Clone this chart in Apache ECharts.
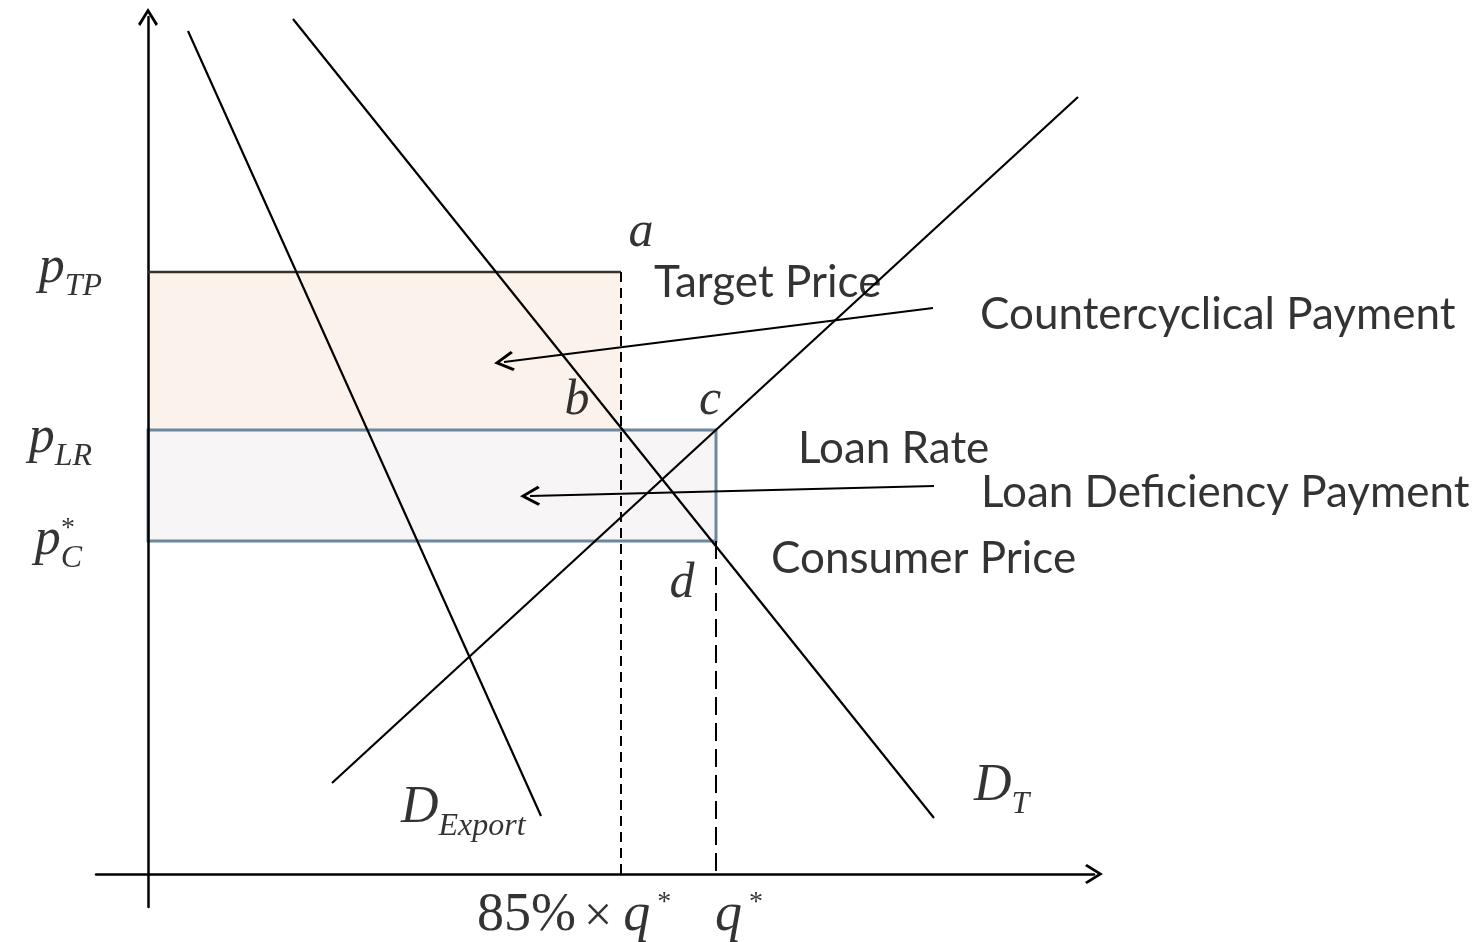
<!DOCTYPE html>
<html>
<head>
<meta charset="utf-8">
<script src="https://cdn.jsdelivr.net/npm/echarts@6/dist/echarts.min.js"></script>
<style>
html,body{margin:0;padding:0;background:#fff;}
#chart{width:1483px;height:942px;}
</style>
</head>
<body>
<div id="chart"></div>
<script>
// ---- data (quantity / price units, origin at the axes' crossing) ----
const pTP = 602;   // target price
const pLR = 444;   // loan rate
const pC = 333;    // consumer price
const q85 = 473;   // 85% x q*
const qStar = 568; // q*
const demandExport = [[40, 843], [393, 58]];
const demandTotal = [[145, 855], [786, 56]];
const supplyCurve = [[184, 91], [930, 777]];
const ccpArrow = [[785, 566], [356, 512]];
const ldpArrow = [[786, 388], [382, 378]];
const priceTickLabels = ['{m|p}{s|TP}', '{m|p}{s|LR}', '{m|p}{s|C}'];
const qTickLabels = ['{n|85%}{x|×}{q|q}{st|*}', '{q|q}{st|*}'];
const pointLetters = ['a', 'b', 'c', 'd'];
const curveLabels = ['{m|D}{e|Export}', '{m|D}{s|T}'];
const noteLabels = ['Target Price', 'Countercyclical Payment', 'Loan Rate', 'Loan Deficiency Payment', 'Consumer Price'];

// ---- styles ----
const SERIF = 'Liberation Serif';
const SANS = 'Lato';
const chevron = 'path://M10,0 L20,16 L17.8,17.8 L10,5.2 L2.2,17.8 L0,16 Z';
const richMath = {
  m: {fontFamily: SERIF, fontStyle: 'italic', fontSize: 52, lineHeight: 52, verticalAlign: 'bottom', padding: [0, 0, 9, 0], color: '#000'},
  s: {fontFamily: SERIF, fontStyle: 'italic', fontSize: 32, lineHeight: 32, verticalAlign: 'bottom', color: '#000'},
  e: {fontFamily: SERIF, fontStyle: 'italic', fontSize: 32, lineHeight: 32, verticalAlign: 'bottom', color: '#000'},
  l: {fontFamily: SERIF, fontStyle: 'italic', fontSize: 50, lineHeight: 50, color: '#000'},
  n: {fontFamily: SERIF, fontSize: 54, lineHeight: 54, verticalAlign: 'bottom', color: '#000'},
  x: {fontFamily: SERIF, fontSize: 50, lineHeight: 54, verticalAlign: 'bottom', padding: [0, 11, 0, 8], color: '#000'},
  q: {fontFamily: SERIF, fontStyle: 'italic', fontSize: 54, lineHeight: 54, verticalAlign: 'bottom', padding: [0, 7, 0, 0], color: '#000'},
  st: {fontFamily: SERIF, fontSize: 28, lineHeight: 28, verticalAlign: 'top', color: '#000'},
  star: {fontFamily: SERIF, fontSize: 28, lineHeight: 28, color: '#000'},
  t: {fontFamily: SANS, fontSize: 44, lineHeight: 48, color: '#000'}
};

function lab(value, text, align, offset) {
  return {
    value: value,
    label: {show: true, position: 'inside', color: '#000', formatter: text, align: align, verticalAlign: 'middle', offset: offset, rich: richMath}
  };
}

const labelData = [
  lab([0, pTP], priceTickLabels[0], 'right', [-46, 5]),
  lab([0, pLR], priceTickLabels[1], 'right', [-56, 17]),
  lab([0, pC], priceTickLabels[2], 'right', [-66, 8]),
  lab([0, pC], '{star|*}', 'center', [-80, -12]),
  lab([q85, 0], qTickLabels[0], 'left', [-144, 42]),
  lab([qStar, 0], qTickLabels[1], 'left', [-1, 42]),
  lab([q85, pTP], '{l|' + pointLetters[0] + '}', 'center', [20, -39]),
  lab([q85, pLR], '{l|' + pointLetters[1] + '}', 'center', [-44, -29]),
  lab([qStar, pLR], '{l|' + pointLetters[2] + '}', 'center', [-6, -29]),
  lab([qStar, pC], '{l|' + pointLetters[3] + '}', 'center', [-34, 43]),
  lab(demandExport[1], curveLabels[0], 'left', [-140, 1]),
  lab(demandTotal[1], curveLabels[1], 'left', [40, -23]),
  lab([q85, pTP], '{t|' + noteLabels[0] + '}', 'left', [33, 11]),
  lab(ccpArrow[0], '{t|' + noteLabels[1] + '}', 'left', [47, 7]),
  lab([qStar, pLR], '{t|' + noteLabels[2] + '}', 'left', [82, 19]),
  lab(ldpArrow[0], '{t|' + noteLabels[3] + '}', 'left', [47, 7]),
  lab([qStar, pC], '{t|' + noteLabels[4] + '}', 'left', [55, 18])
];

function seg(name, data, style, z) {
  return {name: name, type: 'line', data: data, showSymbol: false, symbol: 'none', silent: true, z: z || 3, lineStyle: style};
}

const chart = echarts.init(document.getElementById('chart'), null, {renderer: 'canvas'});
chart.setOption({
  animation: false,
  backgroundColor: '#fff',
  tooltip: {show: false},
  grid: {left: 96, top: 17, width: 998, height: 890, containLabel: false},
  xAxis: {
    type: 'value', min: -52, max: 946, z: 2,
    axisLine: {show: true, onZero: true, lineStyle: {color: '#000', width: 2.5}, symbol: ['none', chevron], symbolSize: [22, 18]},
    axisTick: {show: false}, axisLabel: {show: false}, splitLine: {show: false}
  },
  yAxis: {
    type: 'value', min: -33, max: 857, z: 2,
    axisLine: {show: true, onZero: true, lineStyle: {color: '#000', width: 2.5}, symbol: ['none', chevron], symbolSize: [20, 18]},
    axisTick: {show: false}, axisLabel: {show: false}, splitLine: {show: false}
  },
  series: [
    {
      name: 'areas', type: 'line', data: [], z: 1, silent: true,
      markArea: {
        silent: true,
        label: {show: false},
        data: [
          [{coord: [0, pLR], itemStyle: {color: '#fbf2ec', borderWidth: 0}}, {coord: [q85, pTP]}],
          [{coord: [0, pC], itemStyle: {color: '#f7f5f6', borderColor: '#6d879d', borderWidth: 3}}, {coord: [qStar, pLR]}]
        ]
      }
    },
    seg('target price', [[0, pTP], [q85, pTP]], {color: '#3b2f28', width: 2.5}),
    seg('85% q*', [[q85, pTP], [q85, 0]], {color: '#000', width: 2, type: [10, 6]}),
    seg('q*', [[qStar, pC], [qStar, 0]], {color: '#000', width: 2, type: [18, 8]}),
    seg('D Export', demandExport, {color: '#000', width: 2.2}),
    seg('D T', demandTotal, {color: '#000', width: 2.2}),
    seg('Supply', supplyCurve, {color: '#000', width: 2.2}),
    {
      name: 'arrows', type: 'line', data: [], z: 4, silent: true,
      markLine: {
        silent: true,
        symbol: ['none', chevron],
        symbolSize: [20, 20],
        label: {show: false},
        lineStyle: {color: '#000', width: 2, type: 'solid'},
        emphasis: {disabled: true},
        data: [
          [{coord: ccpArrow[0]}, {coord: ccpArrow[1]}],
          [{coord: ldpArrow[0]}, {coord: ldpArrow[1]}]
        ]
      }
    },
    {
      name: 'labels', type: 'scatter', data: labelData, z: 5, silent: true,
      symbolSize: 1, itemStyle: {color: 'rgba(0,0,0,0)'}
    }
  ]
});
</script>
</body>
</html>
